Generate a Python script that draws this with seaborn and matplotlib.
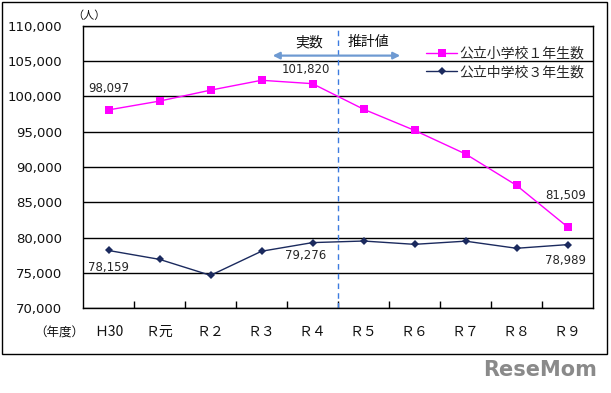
import numpy as np
import pandas as pd
import matplotlib
matplotlib.use("Agg")
import matplotlib.pyplot as plt
from matplotlib.lines import Line2D
from matplotlib.patches import Rectangle
from matplotlib.ticker import FuncFormatter, MultipleLocator, FixedLocator
import seaborn as sns

years = ["Ｈ30", "Ｒ元", "Ｒ２", "Ｒ３", "Ｒ４", "Ｒ５", "Ｒ６", "Ｒ７", "Ｒ８", "Ｒ９"]
elem_1st = [98097, 99350, 100900, 102300, 101820, 98200, 95200, 91850, 87400, 81509]
junior_3rd = [78159, 76900, 74630, 78050, 79276, 79500, 79030, 79480, 78470, 78989]
elem_name = "公立小学校１年生数"
junior_name = "公立中学校３年生数"

sns.set_theme(style="white")
plt.rcParams["font.family"] = ["DejaVu Sans", "Noto Sans CJK JP"]
cjk = ["Noto Sans CJK JP", "DejaVu Sans"]

df = pd.DataFrame({"year": years, elem_name: elem_1st, junior_name: junior_3rd})
df["pos"] = np.arange(len(years))

fig = plt.figure(figsize=(6.11, 3.93), dpi=100)
ax = fig.add_axes([83 / 611, 1 - 308 / 393, 510 / 611, 282 / 393])

pink = "#FF00FF"
navy = "#1B2A5E"
sns.lineplot(data=df, x="pos", y=elem_name, ax=ax, color=pink, lw=1,
             marker="s", markersize=5.5, markeredgewidth=0)
sns.lineplot(data=df, x="pos", y=junior_name, ax=ax, color=navy, lw=1,
             marker="D", markersize=4, markeredgewidth=0)

ax.set_xlim(-0.5, len(years) - 0.5)
ax.set_ylim(70000, 110000)
ax.yaxis.set_major_locator(MultipleLocator(5000))
ax.yaxis.set_major_formatter(FuncFormatter(lambda v, p: f"{int(v):,}"))
ax.grid(axis="y", color="black", lw=1)
ax.set_axisbelow(True)
for s in ax.spines.values():
    s.set_color("black")
    s.set_linewidth(1)

ax.set_xticks(df["pos"])
ax.set_xticklabels(years, family=cjk)
ax.xaxis.set_minor_locator(FixedLocator(np.arange(0.5, len(years) - 1, 1)))
ax.tick_params(axis="x", which="major", length=0, pad=12, labelsize=10, colors="#111111")
ax.tick_params(axis="x", which="minor", direction="in", length=5, width=1, color="black", bottom=True)
ax.tick_params(axis="y", length=0, pad=15, labelsize=9.5, colors="#111111")
ax.set_xlabel("")
ax.set_ylabel("")

# boundary between actual and estimate
ax.axvline(4.5, color="#3D7BE0", lw=1, ls=(0, (4, 3)))
ax.annotate("", xy=(3.22, 105800), xytext=(5.72, 105800),
            arrowprops=dict(arrowstyle="<|-|>", color="#6E9AD2", lw=1.6,
                            mutation_scale=10, shrinkA=0, shrinkB=0))
ax.text(3.93, 107700, "実数", ha="center", va="center", fontsize=10, family=cjk, color="#111111")
ax.text(4.68, 107700, "推計値", ha="left", va="center", fontsize=10, family=cjk, color="#111111")

# value labels
fs = 8.5
ax.text(-0.4, elem_1st[0] + 3100, f"{elem_1st[0]:,}", ha="left", va="center", fontsize=fs)
ax.text(3.87, elem_1st[4] + 2000, f"{elem_1st[4]:,}", ha="center", va="center", fontsize=fs)
ax.text(9.36, elem_1st[9] + 4500, f"{elem_1st[9]:,}", ha="right", va="center", fontsize=fs)
ax.text(-0.4, junior_3rd[0] - 2400, f"{junior_3rd[0]:,}", ha="left", va="center", fontsize=fs)
ax.text(3.87, junior_3rd[4] - 1800, f"{junior_3rd[4]:,}", ha="center", va="center", fontsize=fs)
ax.text(9.36, junior_3rd[9] - 2200, f"{junior_3rd[9]:,}", ha="right", va="center", fontsize=fs)

handles = [Line2D([], [], color=pink, lw=1, marker="s", markersize=5.5, markeredgewidth=0),
           Line2D([], [], color=navy, lw=1, marker="D", markersize=4, markeredgewidth=0)]
ax.legend(handles, [elem_name, junior_name], loc="upper right", bbox_to_anchor=(1.0, 0.955),
          frameon=False, prop={"family": cjk, "size": 10}, handlelength=2.2,
          handletextpad=0.2, labelspacing=0.3, borderaxespad=0.2)

fig.text(72 / 611, 1 - 16 / 393, "（人）", ha="left", va="center", fontsize=8, family=cjk, color="#111111")
fig.text(84 / 611, 1 - 333 / 393, "（年度）", ha="right", va="center", fontsize=9, family=cjk, color="#111111")

fig.patches.append(Rectangle((1.5 / 611, 1 - 354 / 393), 605 / 611, 352 / 393,
                             transform=fig.transFigure, fill=False, ec="black", lw=1))
fig.text(597 / 611, 1 - 370 / 393, "ReseMom", ha="right", va="center", fontsize=15,
         fontweight="bold", color="#8a8a8a")

fig.savefig("out.png", dpi=100)
